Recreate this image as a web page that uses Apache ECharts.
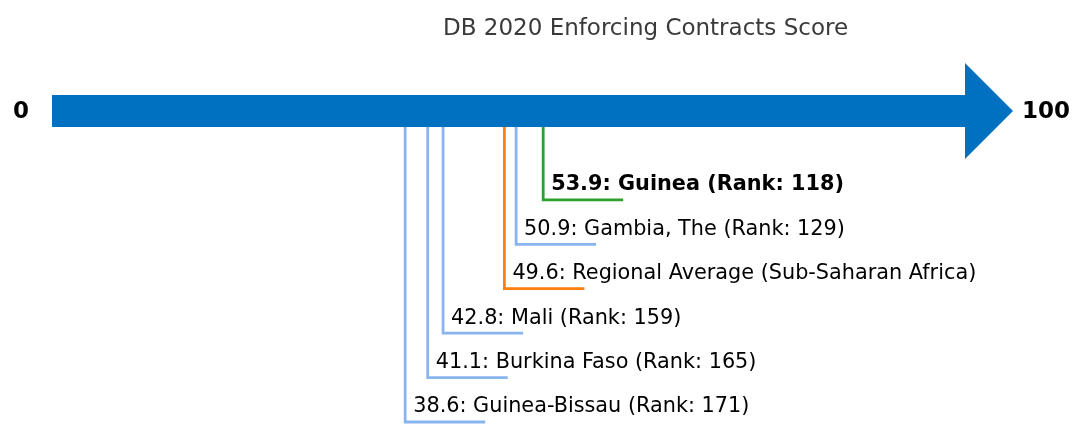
<!DOCTYPE html>
<html>
<head>
<meta charset="utf-8">
<style>
  html, body { margin: 0; padding: 0; background: #fff; }
  #chart { width: 1072px; height: 424px; }
</style>
<script src="https://cdn.jsdelivr.net/npm/echarts@6/dist/echarts.min.js"></script>
</head>
<body>
<div id="chart"></div>
<script>
// economies shown under the arrow, top row first
const NAMES = ['Guinea', 'Gambia, The', 'Regional Average (Sub-Saharan Africa)', 'Mali', 'Burkina Faso', 'Guinea-Bissau'];
const SCORES = [53.9, 50.9, 49.6, 42.8, 41.1, 38.6];
const RANKS = [118, 129, null, 159, 165, 171];
const KINDS = ['focus', 'peer', 'region', 'peer', 'peer', 'peer'];
const SCALE_MIN = 0;
const SCALE_MAX = 100;

const COLORS = { focus: '#2ca02c', peer: '#8ab4f0', region: '#ff7f0e' };
const FONT = '"DejaVu Sans", sans-serif';
const ARROW_ROW = -1;

const rows = SCORES.map((s, i) => [s, i + 1, i]);

const chart = echarts.init(document.getElementById('chart'));

function renderArrow(params, api) {
    const left = api.coord([SCALE_MIN, ARROW_ROW]);
    const right = api.coord([SCALE_MAX, ARROW_ROW]);
    const yc = left[1];
    const x0 = left[0] - 5;
    const x1 = right[0] + 6;
    const tip = x1 + 48;
    return {
        type: 'group',
        children: [{
            type: 'polygon',
            shape: {
                points: [
                    [x0, yc - 16], [x1, yc - 16], [x1, yc - 48], [tip, yc],
                    [x1, yc + 48], [x1, yc + 16], [x0, yc + 16]
                ]
            },
            style: { fill: '#0070c0' }
        }, {
            type: 'text',
            style: {
                x: x0 - 31, y: yc + 1, text: String(SCALE_MIN),
                font: 'bold 23px ' + FONT, fill: '#000',
                align: 'center', verticalAlign: 'middle'
            }
        }, {
            type: 'text',
            style: {
                x: tip + 9, y: yc + 1, text: String(SCALE_MAX),
                font: 'bold 23px ' + FONT, fill: '#000',
                align: 'left', verticalAlign: 'middle'
            }
        }]
    };
}

function renderRow(params, api) {
    const i = api.value(2);
    const top = api.coord([api.value(0), ARROW_ROW]);
    const pt = api.coord([api.value(0), api.value(1)]);
    const kind = KINDS[i];
    const color = COLORS[kind];
    const label = RANKS[i] == null
        ? `${SCORES[i]}: ${NAMES[i]}`
        : `${SCORES[i]}: ${NAMES[i]} (Rank: ${RANKS[i]})`;
    return {
        type: 'group',
        children: [{
            type: 'polyline',
            shape: { points: [[pt[0], top[1] + 16], [pt[0], pt[1]], [pt[0] + 80, pt[1]]] },
            style: { stroke: color, lineWidth: 2.8, fill: null }
        }, {
            type: 'text',
            style: {
                x: pt[0] + 8, y: pt[1] - 15, text: label,
                font: (kind === 'focus' ? 'bold ' : '') + '20.8px ' + FONT,
                fill: '#000', align: 'left', verticalAlign: 'middle'
            }
        }]
    };
}

chart.setOption({
    animation: false,
    title: {
        text: 'DB 2020 Enforcing Contracts Score',
        left: 438,
        top: 13,
        textStyle: { fontFamily: FONT, fontSize: 23, fontWeight: 'normal', color: '#3a3a3a' }
    },
    grid: { left: 57, right: 113, top: 111, bottom: 2 },
    xAxis: { type: 'value', min: SCALE_MIN, max: SCALE_MAX, show: false },
    yAxis: { type: 'value', min: ARROW_ROW, max: 6, inverse: true, show: false },
    series: [{
        type: 'custom',
        renderItem: renderArrow,
        data: [[SCALE_MIN, ARROW_ROW]],
        clip: false,
        silent: true
    }, {
        type: 'custom',
        renderItem: renderRow,
        data: rows,
        encode: { x: 0, y: 1 },
        clip: false,
        silent: true
    }]
});
</script>
</body>
</html>
